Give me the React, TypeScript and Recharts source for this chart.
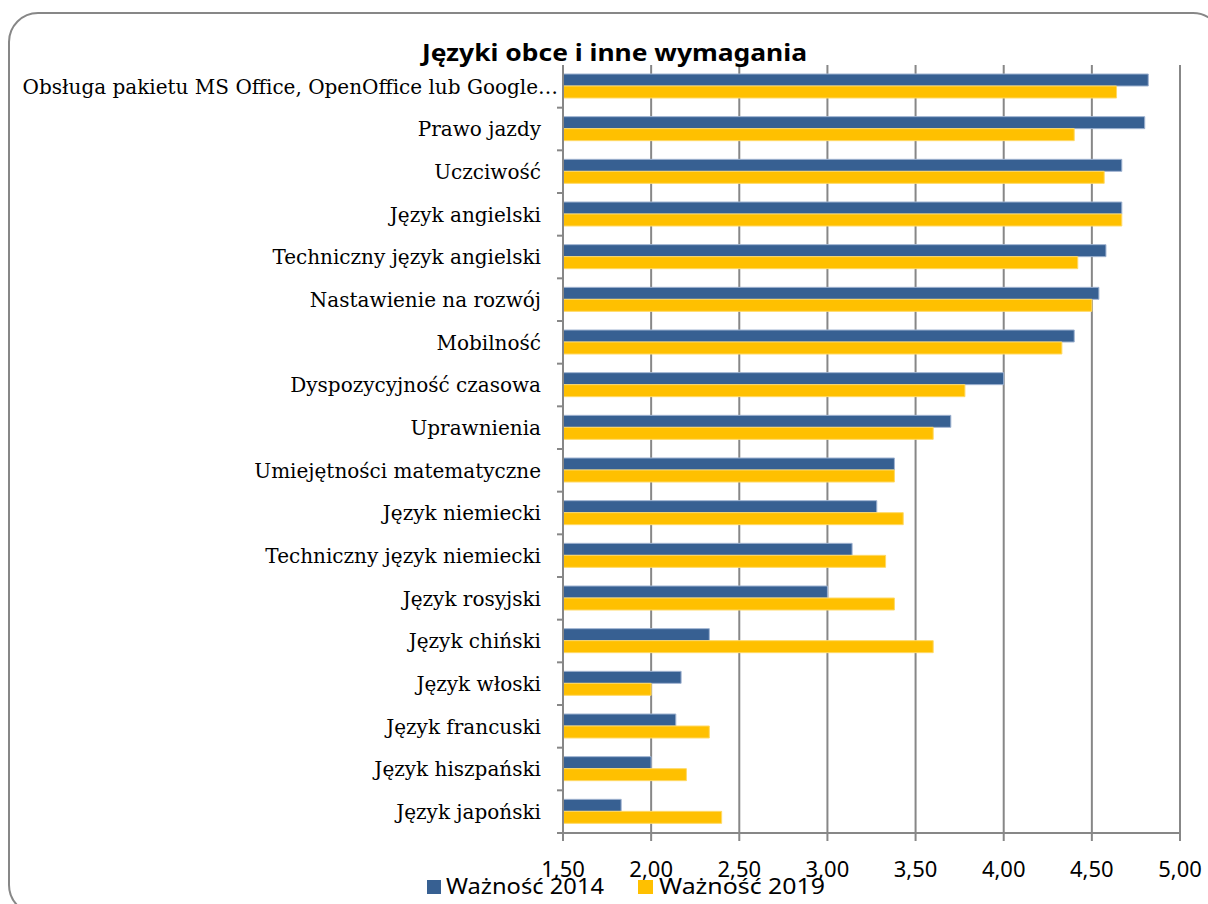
import React from "react";
import { BarChart, Bar, XAxis, YAxis, CartesianGrid } from "recharts";

const categories = [
  "Obsługa pakietu MS Office, OpenOffice lub Google…",
  "Prawo jazdy",
  "Uczciwość",
  "Język angielski",
  "Techniczny język angielski",
  "Nastawienie na rozwój",
  "Mobilność",
  "Dyspozycyjność czasowa",
  "Uprawnienia",
  "Umiejętności matematyczne",
  "Język niemiecki",
  "Techniczny język niemiecki",
  "Język rosyjski",
  "Język chiński",
  "Język włoski",
  "Język francuski",
  "Język hiszpański",
  "Język japoński",
];

const values2014 = [4.82, 4.8, 4.67, 4.67, 4.58, 4.54, 4.4, 4.0, 3.7, 3.38, 3.28, 3.14, 3.0, 2.33, 2.17, 2.14, 2.0, 1.83];
const values2019 = [4.64, 4.4, 4.57, 4.67, 4.42, 4.5, 4.33, 3.78, 3.6, 3.38, 3.43, 3.33, 3.38, 3.6, 2.0, 2.33, 2.2, 2.4];

const xTicks = [1.5, 2, 2.5, 3, 3.5, 4, 4.5, 5];
const xTickLabels = ["1,50", "2,00", "2,50", "3,00", "3,50", "4,00", "4,50", "5,00"];

const seriesNames = ["Ważność 2014", "Ważność 2019"];
const seriesColors = ["#376092", "#FFC000"];
const title = "Języki obce i inne wymagania";

const data = categories.map((name, i) => ({
  name,
  v2014: values2014[i],
  v2019: values2019[i],
}));

const W = 1208;
const H = 904;
const PLOT_LEFT = 563;
const PLOT_RIGHT = 1180;
const PLOT_TOP = 65;
const PLOT_BOTTOM = 833;
const BAND = (PLOT_BOTTOM - PLOT_TOP) / categories.length;
const GRID = "#878787";

const YTick = (props: any) => {
  const { y, payload } = props;
  const label: string = payload.value;
  const truncated = label.endsWith("…");
  return (
    <g>
      <line x1={PLOT_LEFT - 6} x2={PLOT_LEFT} y1={y + BAND / 2} y2={y + BAND / 2} stroke={GRID} strokeWidth={2} />
      <text
        x={truncated ? PLOT_LEFT - 5 : PLOT_LEFT - 22}
        y={y}
        dy="0.36em"
        textAnchor="end"
        fontFamily="'DejaVu Serif', serif"
        fontSize={20}
        fill="#000"
      >
        {label}
      </text>
    </g>
  );
};

const XTick = (props: any) => {
  const { x, payload } = props;
  const idx = xTicks.indexOf(payload.value);
  return (
    <text
      x={x}
      y={877}
      textAnchor="middle"
      fontFamily="'Noto Sans', sans-serif"
      fontSize={22}
      fill="#000"
    >
      {idx >= 0 ? xTickLabels[idx] : String(payload.value)}
    </text>
  );
};

export default function App() {
  return (
    <div style={{ position: "relative", width: W, height: H, background: "#fff", overflow: "hidden" }}>
      <style>{"body{margin:0;overflow:hidden;background:#fff}"}</style>
      <div
        style={{
          position: "absolute",
          left: 8,
          top: 12,
          width: 1215,
          height: 903,
          border: `2px solid ${GRID}`,
          borderRadius: 30,
          boxSizing: "border-box",
        }}
      />
      <div style={{ position: "absolute", left: 0, top: 0 }}>
        <BarChart
          width={W}
          height={H}
          data={data}
          layout="vertical"
          margin={{ top: PLOT_TOP, right: W - PLOT_RIGHT, left: 0, bottom: 0 }}
          barGap={0}
          barSize={12}
        >
          <CartesianGrid horizontal={false} vertical={true} stroke={GRID} strokeWidth={2} />
          <XAxis
            type="number"
            domain={[1.5, 5]}
            ticks={xTicks}
            allowDataOverflow
            height={H - PLOT_BOTTOM}
            axisLine={{ stroke: GRID, strokeWidth: 2 }}
            tickLine={{ stroke: GRID, strokeWidth: 2 }}
            tickSize={8}
            tick={<XTick />}
            interval={0}
          />
          <YAxis
            type="category"
            dataKey="name"
            width={PLOT_LEFT}
            axisLine={{ stroke: GRID, strokeWidth: 2 }}
            tickLine={false}
            tick={<YTick />}
            interval={0}
          />
          <Bar dataKey="v2014" name={seriesNames[0]} fill={seriesColors[0]} stroke="#9fb3d1" strokeWidth={1} isAnimationActive={false} />
          <Bar dataKey="v2019" name={seriesNames[1]} fill={seriesColors[1]} stroke="#ffd966" strokeWidth={1} isAnimationActive={false} />
        </BarChart>
      </div>
      <svg style={{ position: "absolute", left: 0, top: 0 }} width={W} height={H}>
        <text
          x={422}
          y={61}
          fontFamily="'Noto Sans', sans-serif"
          fontWeight="bold"
          fontSize={23}
          textLength={385}
          lengthAdjust="spacingAndGlyphs"
          fill="#000"
        >
          {title}
        </text>
        <rect x={427} y={880} width={14} height={14} fill={seriesColors[0]} />
        <text x={446} y={894} fontFamily="'Noto Sans', sans-serif" fontSize={22} textLength={158} lengthAdjust="spacingAndGlyphs" fill="#000">
          {seriesNames[0]}
        </text>
        <rect x={638} y={880} width={15} height={14} fill={seriesColors[1]} />
        <text x={659} y={894} fontFamily="'Noto Sans', sans-serif" fontSize={22} textLength={166} lengthAdjust="spacingAndGlyphs" fill="#000">
          {seriesNames[1]}
        </text>
      </svg>
    </div>
  );
}
